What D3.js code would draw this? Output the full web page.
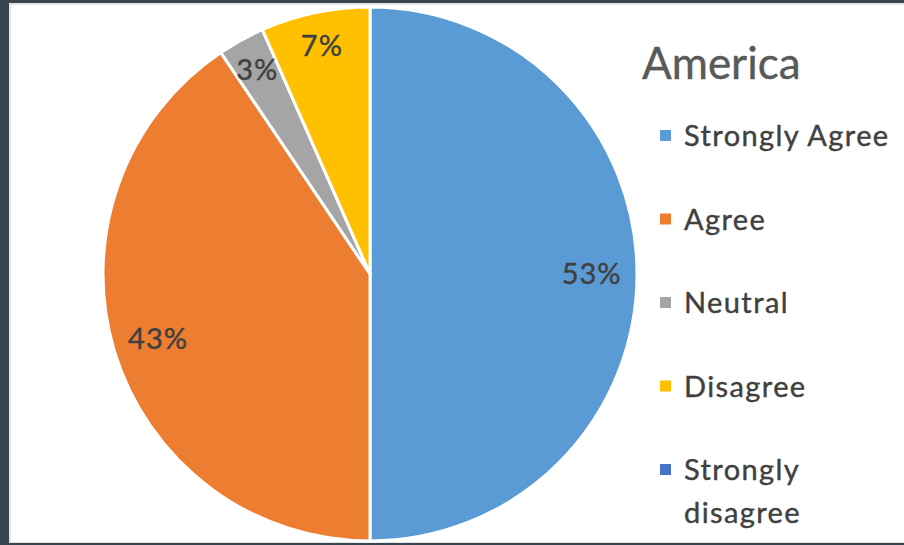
<!DOCTYPE html>
<html>
<head>
<meta charset="utf-8">
<script src="https://cdn.jsdelivr.net/npm/d3@7"></script>
<style>
  html, body { margin: 0; padding: 0; background: #36454f; }
  svg { display: block; }
</style>
</head>
<body>
<script>
// Survey responses for America
const categories = ["Strongly Agree", "Agree", "Neutral", "Disagree", "Strongly disagree"];
const values = [53, 43, 3, 7, 0];
const colors = ["#5b9bd5", "#ed7d31", "#a5a5a5", "#ffc000", "#4472c4"];
const chartTitle = "America";

const W = 904, H = 545;
const svg = d3.select("body").append("svg").attr("width", W).attr("height", H);

// white card with a faint edge over the dark page
svg.append("rect").attr("x", 9).attr("y", 3).attr("width", W - 9).attr("height", H - 5)
  .attr("fill", "#e4e4e4");
svg.append("rect").attr("x", 11).attr("y", 5).attr("width", W - 11).attr("height", H - 8)
  .attr("fill", "#ffffff");

const cx = 370, cy = 274, r = 267;
const font = "Lato, 'Open Sans', sans-serif";
const textColor = "#404040";

const data = categories.map((c, i) => ({ cat: c, value: values[i], color: colors[i] }));
const pie = d3.pie().value(d => d.value).sort(null);
const arcs = pie(data);
const arc = d3.arc().innerRadius(0).outerRadius(r);

const g = svg.append("g").attr("transform", `translate(${cx},${cy})`);
g.selectAll("path.slice").data(arcs.filter(a => a.value > 0)).join("path")
  .attr("class", "slice")
  .attr("d", arc)
  .attr("fill", d => d.data.color)
  .attr("stroke", "#ffffff")
  .attr("stroke-width", 3)
  .attr("stroke-linejoin", "round");

// percentage labels inside the slices; thin slices sit closer to the rim
g.selectAll("text.lbl").data(arcs.filter(a => a.value > 0)).join("text")
  .attr("class", "lbl")
  .attr("transform", d => {
    const span = d.endAngle - d.startAngle;
    const rr = r * (span > 1 ? 0.83 : 0.875);
    const la = d3.arc().innerRadius(rr).outerRadius(rr);
    const [x, y] = la.centroid(d);
    return `translate(${x},${y})`;
  })
  .attr("text-anchor", "middle")
  .attr("dy", "0.36em")
  .attr("font-family", font)
  .attr("font-size", 29)
  .attr("letter-spacing", 1)
  .attr("fill", textColor)
  .attr("stroke", textColor)
  .attr("stroke-width", 0.4)
  .text(d => d.value + "%");

// legend
svg.append("text").attr("x", 642).attr("y", 79)
  .attr("font-family", font).attr("font-size", 44).attr("fill", "#595959")
  .attr("stroke", "#595959").attr("stroke-width", 0.4)
  .text(chartTitle);

const itemY = d3.scalePoint().domain(categories).range([136, 470]);
const leg = svg.append("g").selectAll("g").data(data).join("g")
  .attr("transform", d => `translate(0,${itemY(d.cat)})`);
leg.append("rect").attr("x", 660).attr("y", -6).attr("width", 11).attr("height", 11)
  .attr("fill", d => d.color);
leg.append("text").attr("x", 684).attr("y", 0).attr("dy", "0.36em")
  .attr("font-family", font).attr("font-size", 29).attr("letter-spacing", 1.4)
  .attr("fill", textColor).attr("stroke", textColor).attr("stroke-width", 0.4)
  .each(function(d) {
    const words = d.cat.split(" ");
    const t = d3.select(this);
    // the last entry wraps onto two lines
    if (d.cat === "Strongly disagree") {
      t.append("tspan").attr("x", 684).text(words[0]);
      t.append("tspan").attr("x", 684).attr("dy", 43).text(words[1]);
    } else {
      t.text(d.cat);
    }
  });
</script>
</body>
</html>
